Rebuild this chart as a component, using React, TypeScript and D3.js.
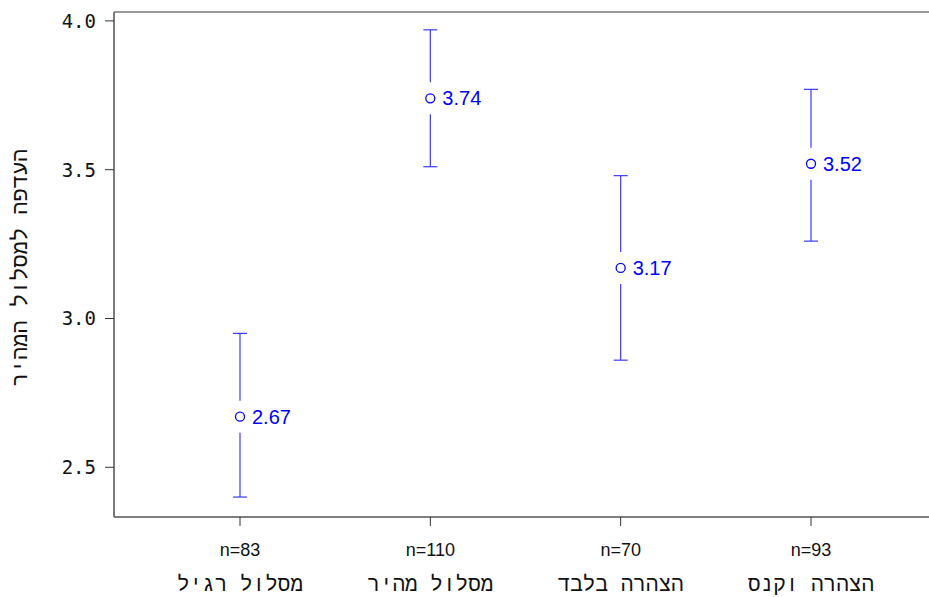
import React from "react";
import * as d3 from "d3";

const categories = ["מסלול רגיל", "מסלול מהיר", "הצהרה בלבד", "הצהרה וקנס"];
const counts = [83, 110, 70, 93];
const means = [2.67, 3.74, 3.17, 3.52];
const upper = [2.95, 3.97, 3.48, 3.77];
const lower = [2.4, 3.51, 2.86, 3.26];
const yTicks = [2.5, 3.0, 3.5, 4.0];
const yTitle = "העדפה למסלול המהיר";

const W = 929;
const H = 597;
const left = 114;
const top = 12;
const bottom = 517;
const mono = "DejaVu Sans Mono";
const hebrew = "Liberation Mono";

export default function App() {
  const y = d3.scaleLinear().domain([3, 4]).range([318.5, 20.9]);
  const x = d3.scaleLinear().domain([1, 4]).range([240, 811]);
  const blue = "#0000ff";
  const bar = "#3a3aff";
  const gap = 16;
  const cap = 7;
  const midY = (top + bottom) / 2;

  return (
    <svg
      width={W}
      height={H}
      style={{ position: "absolute", left: 0, top: 0, background: "#fff" }}
    >
      {/* frame: left, top, bottom */}
      <line x1={left} x2={left} y1={top} y2={bottom} stroke="#333" strokeWidth={1.3} />
      <line x1={left} x2={W} y1={top} y2={top} stroke="#777" strokeWidth={1.3} />
      <line x1={left} x2={W} y1={bottom} y2={bottom} stroke="#555" strokeWidth={1.3} />

      {/* y axis */}
      {yTicks.map((t) => (
        <g key={t}>
          <line x1={left - 9} x2={left} y1={y(t)} y2={y(t)} stroke="#333" strokeWidth={1} />
          <text
            x={96}
            y={y(t)}
            dy="0.36em"
            textAnchor="end"
            fontFamily={mono}
            fontSize={19}
            fill="#111"
          >
            {d3.format(".1f")(t)}
          </text>
        </g>
      ))}
      <text
        transform={`translate(27,${midY + 3}) rotate(-90)`}
        textAnchor="middle"
        fontFamily={hebrew}
        fontSize={22}
        fill="#111"
        direction="rtl"
      >
        {yTitle}
      </text>

      {/* x axis */}
      {categories.map((c, i) => (
        <g key={c}>
          <line x1={x(i + 1)} x2={x(i + 1)} y1={bottom} y2={bottom + 9} stroke="#333" strokeWidth={1} />
          <text
            x={x(i + 1)}
            y={556}
            textAnchor="middle"
            fontFamily="Liberation Sans"
            fontSize={18}
            fill="#111"
          >
            {`n=${counts[i]}`}
          </text>
          <text
            x={x(i + 1)}
            y={591}
            textAnchor="middle"
            fontFamily={hebrew}
            fontSize={21}
            fill="#111"
            direction="rtl"
          >
            {c}
          </text>
        </g>
      ))}

      {/* means with intervals */}
      {means.map((m, i) => {
        const cx = x(i + 1);
        const cy = y(m);
        return (
          <g key={i}>
            <line x1={cx} x2={cx} y1={y(upper[i])} y2={cy - gap} stroke={bar} strokeWidth={1.2} />
            <line x1={cx} x2={cx} y1={cy + gap} y2={y(lower[i])} stroke={bar} strokeWidth={1.2} />
            <line x1={cx - cap} x2={cx + cap} y1={y(upper[i])} y2={y(upper[i])} stroke={bar} strokeWidth={1.2} />
            <line x1={cx - cap} x2={cx + cap} y1={y(lower[i])} y2={y(lower[i])} stroke={bar} strokeWidth={1.2} />
            <circle cx={cx} cy={cy} r={4.5} fill="none" stroke={blue} strokeWidth={1.3} />
            <text
              x={cx + 12}
              y={cy}
              dy="0.36em"
              fontFamily="Liberation Sans"
              fontSize={20}
              fill={blue}
            >
              {d3.format(".2f")(m)}
            </text>
          </g>
        );
      })}
    </svg>
  );
}
